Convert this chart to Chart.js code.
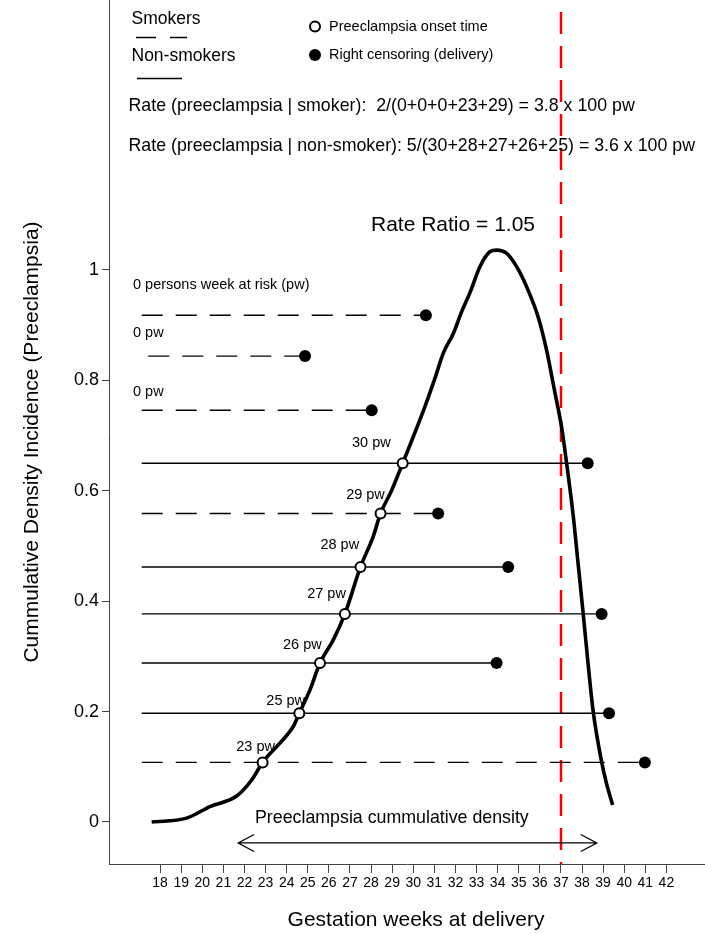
<!DOCTYPE html>
<html><head><meta charset="utf-8">
<script src="https://cdn.jsdelivr.net/npm/chart.js@4.4.1/dist/chart.umd.min.js"></script>
<style>html,body{margin:0;padding:0;background:#fff;}canvas{display:block;}</style>
</head><body>
<canvas id="c" width="705" height="934"></canvas>
<script>
// ---------- data ----------
const weekTicks = [18,19,20,21,22,23,24,25,26,27,28,29,30,31,32,33,34,35,36,37,38,39,40,41,42];
const yTicks = [0,0.2,0.4,0.6,0.8,1];

const curveWeeks  = [17.60,19.26,20.36,21.63,22.34,22.86,23.68,24.31,24.60,25.10,25.58,26.21,26.76,27.50,28.10,28.45,28.98,29.50,30.55,31.03,31.42,31.90,32.30,32.70,33.16,33.63,33.95,34.43,34.90,35.37,35.92,36.32,36.72,37.03,37.27,37.58,37.82,38.06,38.29,38.53,38.93,39.16,39.45];
const curveValues = [0.000,0.007,0.028,0.047,0.076,0.108,0.143,0.173,0.197,0.239,0.288,0.330,0.377,0.462,0.517,0.559,0.601,0.650,0.752,0.804,0.849,0.885,0.925,0.960,1.006,1.033,1.036,1.030,1.006,0.970,0.915,0.855,0.777,0.716,0.650,0.556,0.466,0.376,0.286,0.200,0.109,0.070,0.031];

const nonSmokerLevels      = [0.650,0.462,0.377,0.288,0.197];
const nonSmokerStartWeeks  = [17.13,17.13,17.13,17.13,17.13];
const nonSmokerOnsetWeeks  = [29.50,27.50,26.76,25.58,24.60];
const nonSmokerCensorWeeks = [38.27,34.50,38.93,33.95,39.28];
const nonSmokerLabels      = ['30 pw','28 pw','27 pw','26 pw','25 pw'];

const smokerLevels      = [0.918,0.844,0.746,0.559,0.108];
const smokerStartWeeks  = [17.13,17.44,17.13,17.13,17.13];
const smokerOnsetWeeks  = [null,null,null,28.45,22.86];
const smokerCensorWeeks = [30.60,24.87,28.03,31.18,40.98];
const smokerLabels      = ['0 persons week at risk (pw)','0 pw','0 pw','29 pw','23 pw'];

const cutoffWeek = 37;
const arrowWeeks = [21.7, 38.7];
const arrowLevel = -0.038;

// ---------- style ----------
const FF = '"Liberation Sans", Arial, Helvetica, sans-serif';
const nonSmokerLabelOffset = {dx:[-12,-1.4,1,1.7,5.7], dy:[-19.7,-22,-20,-18.3,-12.6]};
const smokerLabelOffset = {dx:[0,0,0,4.3,12.3], dy:[-30,-23,-18.3,-18.5,-15.8]};
const DASH = [21,13];

// ---------- datasets ----------
const datasets = [];
function hline(start, end, level, dashed){
  datasets.push({
    data:[{x:start,y:level},{x:end,y:level}],
    showLine:true, borderColor:'#000', borderWidth:1.4,
    borderDash: dashed ? DASH : [], pointRadius:0, order:6, clip:false
  });
}
nonSmokerLevels.forEach((lv,i)=>hline(nonSmokerStartWeeks[i], nonSmokerCensorWeeks[i], lv, false));
smokerLevels.forEach((lv,i)=>hline(smokerStartWeeks[i], smokerCensorWeeks[i], lv, true));

datasets.push({
  data: curveWeeks.map((w,i)=>({x:w,y:curveValues[i]})),
  showLine:true, borderColor:'#000', borderWidth:3.6, pointRadius:0,
  cubicInterpolationMode:'monotone', order:4, clip:false
});

const censorPts = nonSmokerCensorWeeks.map((w,i)=>({x:w,y:nonSmokerLevels[i]}))
  .concat(smokerCensorWeeks.map((w,i)=>({x:w,y:smokerLevels[i]})));
datasets.push({
  data: censorPts, showLine:false, pointRadius:6, pointBackgroundColor:'#000',
  pointBorderColor:'#000', pointBorderWidth:0, order:3, clip:false
});

const onsetPts = nonSmokerOnsetWeeks.map((w,i)=>({x:w,y:nonSmokerLevels[i]}))
  .concat(smokerOnsetWeeks.map((w,i)=>w===null?null:({x:w,y:smokerLevels[i]})).filter(p=>p));
datasets.push({
  data: onsetPts, showLine:false, pointRadius:5, pointBackgroundColor:'#fff',
  pointBorderColor:'#000', pointBorderWidth:2, order:2, clip:false
});

// ---------- plugin ----------
const deco = {
  id:'deco',
  beforeDatasetsDraw(chart){
    const {ctx, scales:{x}, chartArea} = chart;
    const px = Math.round(x.getPixelForValue(cutoffWeek));
    ctx.save();
    ctx.strokeStyle = '#ff0000'; ctx.lineWidth = 2.5; ctx.setLineDash([22,12]);
    ctx.beginPath(); ctx.moveTo(px, chartArea.top+12); ctx.lineTo(px, chartArea.bottom); ctx.stroke();
    ctx.restore();
  },
  afterDatasetsDraw(chart){
    const {ctx, scales:{x,y}} = chart;
    ctx.save();
    ctx.fillStyle = '#000'; ctx.strokeStyle = '#000';
    ctx.textBaseline = 'middle';
    // pw labels
    ctx.font = '14.5px '+FF;
    nonSmokerLabels.forEach((t,i)=>{
      ctx.textAlign = 'right';
      ctx.fillText(t, x.getPixelForValue(nonSmokerOnsetWeeks[i]) + nonSmokerLabelOffset.dx[i],
                      y.getPixelForValue(nonSmokerLevels[i]) + nonSmokerLabelOffset.dy[i]);
    });
    smokerLabels.forEach((t,i)=>{
      const ly = y.getPixelForValue(smokerLevels[i]) + smokerLabelOffset.dy[i];
      if (smokerOnsetWeeks[i] === null){
        ctx.textAlign = 'left';
        ctx.fillText(t, 133, ly);
      } else {
        ctx.textAlign = 'right';
        ctx.fillText(t, x.getPixelForValue(smokerOnsetWeeks[i]) + smokerLabelOffset.dx[i], ly);
      }
    });
    // legend
    ctx.textAlign = 'left';
    ctx.font = '17.5px '+FF;
    ctx.fillText('Smokers', 131.5, 19);
    ctx.fillText('Non-smokers', 131.5, 56.5);
    ctx.lineWidth = 1.5; ctx.setLineDash([]);
    ctx.beginPath();
    ctx.moveTo(136,37.5); ctx.lineTo(156,37.5);
    ctx.moveTo(170,37.5); ctx.lineTo(187,37.5);
    ctx.moveTo(137,78.5); ctx.lineTo(182,78.5);
    ctx.stroke();
    ctx.lineWidth = 2;
    ctx.beginPath(); ctx.arc(315,26.5,5,0,Math.PI*2); ctx.fillStyle='#fff'; ctx.fill(); ctx.stroke();
    ctx.fillStyle = '#000';
    ctx.beginPath(); ctx.arc(315,55,6,0,Math.PI*2); ctx.fill();
    ctx.font = '14.5px '+FF;
    ctx.fillText('Preeclampsia onset time', 329, 26.5);
    ctx.fillText('Right censoring (delivery)', 329, 55);
    ctx.font = '17.8px '+FF;
    ctx.fillText('Rate (preeclampsia | smoker):  2/(0+0+0+23+29) = 3.8 x 100 pw', 128.5, 106);
    ctx.fillText('Rate (preeclampsia | non-smoker): 5/(30+28+27+26+25) = 3.6 x 100 pw', 128.5, 146.5);
    ctx.font = '21px '+FF;
    ctx.textAlign = 'center';
    ctx.fillText('Rate Ratio = 1.05', 453, 225);
    // arrow
    const ax0 = x.getPixelForValue(arrowWeeks[0]), ax1 = x.getPixelForValue(arrowWeeks[1]);
    const ay = y.getPixelForValue(arrowLevel);
    ctx.lineWidth = 1.3;
    ctx.beginPath();
    ctx.moveTo(ax0, ay); ctx.lineTo(ax1, ay);
    ctx.moveTo(ax0+16, ay-8.5); ctx.lineTo(ax0, ay); ctx.lineTo(ax0+16, ay+8.5);
    ctx.moveTo(ax1-16, ay-8.5); ctx.lineTo(ax1, ay); ctx.lineTo(ax1-16, ay+8.5);
    ctx.stroke();
    ctx.textAlign = 'left';
    ctx.font = '17.8px '+FF;
    ctx.fillText('Preeclampsia cummulative density', 255, 818.5);
    // axis titles
    ctx.font = '21px '+FF;
    ctx.textAlign = 'center';
    ctx.fillText('Gestation weeks at delivery', 416, 920);
    ctx.save();
    ctx.translate(32, 442); ctx.rotate(-Math.PI/2);
    ctx.fillText('Cummulative Density Incidence (Preeclampsia)', 0, 0);
    ctx.restore();
    ctx.restore();
  }
};

new Chart(document.getElementById('c'), {
  type:'scatter',
  data:{datasets},
  plugins:[deco],
  options:{
    responsive:false, devicePixelRatio:1, animation:false,
    layout:{padding:0, autoPadding:false},
    plugins:{legend:{display:false}, tooltip:{enabled:false}},
    scales:{
      x:{
        type:'linear', min:15.578, max:43.83,
        afterBuildTicks:s=>{ s.ticks = weekTicks.map(v=>({value:v})); },
        afterFit:s=>{ s.height = 70; s.paddingLeft = 0; s.paddingRight = 0; },
        ticks:{autoSkip:false, maxRotation:0, padding:2, color:'#000',
               font:{family:FF, size:14}, callback:v=>String(v)},
        grid:{display:true, drawOnChartArea:false, drawTicks:true, tickLength:9, color:'#444'},
        border:{display:true, color:'#444', width:1}
      },
      y:{
        type:'linear', min:-0.07609, max:1.48913,
        afterBuildTicks:s=>{ s.ticks = yTicks.map(v=>({value:v})); },
        afterFit:s=>{ s.width = 109; s.paddingTop = 0; s.paddingBottom = 0; },
        ticks:{padding:3, color:'#000', font:{family:FF, size:18}, callback:v=>String(v)},
        grid:{display:true, drawOnChartArea:false, drawTicks:true, tickLength:7, color:'#444'},
        border:{display:true, color:'#444', width:1}
      }
    }
  }
});
</script>
</body></html>
